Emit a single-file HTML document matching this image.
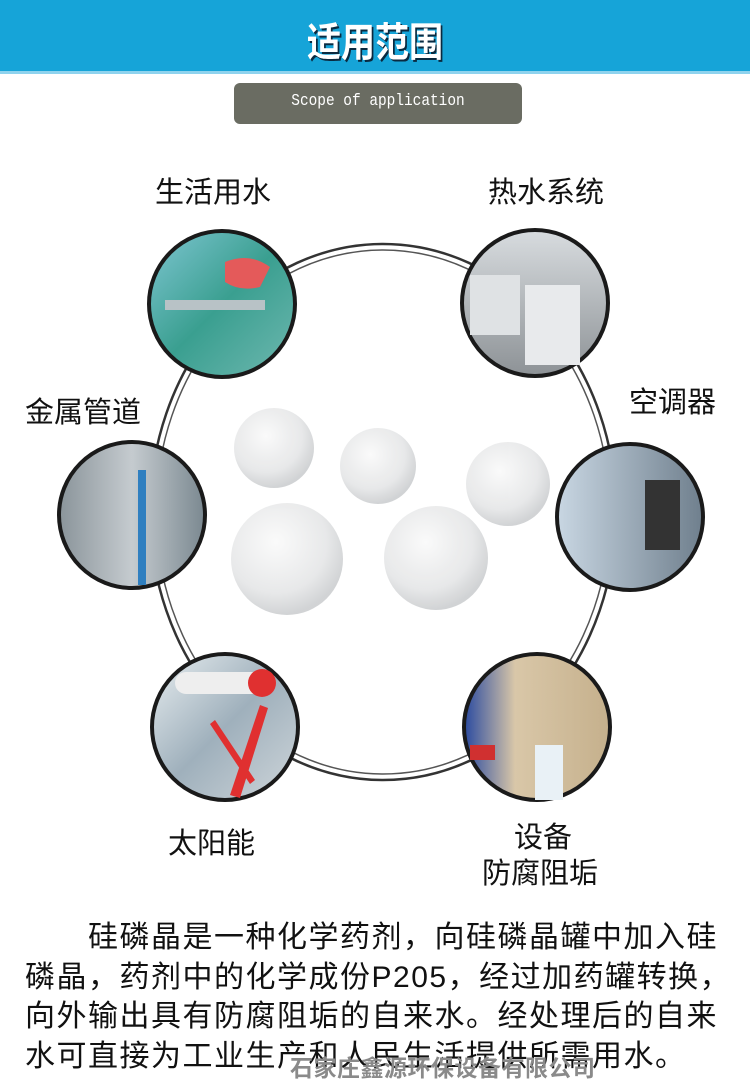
<!DOCTYPE html>
<html><head><meta charset="utf-8"><style>
body{margin:0;width:750px;height:1089px;background:#fff;overflow:hidden;position:relative;font-family:"Liberation Sans","Noto Sans CJK SC",sans-serif}
.hdr{position:absolute;left:0;top:0;width:750px;height:71px;background:#16a4d8;border-bottom:3px solid #8fd3ee}
.hdr span{position:absolute;left:0;width:750px;top:10px;text-align:center;font-size:40px;color:#fff;font-weight:bold;text-shadow:2px 2px 0 #0a2a40;transform:scaleX(0.85)}
.pill{position:absolute;left:234px;top:83px;width:288px;height:41px;background:#6a6c62;border-radius:6px}
.pill span{position:absolute;left:0;width:288px;top:9px;text-align:center;color:#fff;font-family:"Liberation Mono",monospace;font-size:17px;transform:scaleX(0.85)}
.lbl{position:absolute;font-size:29px;color:#111;white-space:nowrap;line-height:36px}
.txt{position:absolute;left:25px;top:918px;width:740px;font-size:30px;letter-spacing:1.5px;line-height:39.5px;color:#111;white-space:nowrap}
.co{position:absolute;left:290px;top:1049px;font-size:23px;font-weight:bold;color:#8a8a8a;letter-spacing:0.5px}
</style></head><body>
<div class="hdr"><span>适用范围</span></div>
<div class="pill"><span>Scope of application</span></div>
<svg width="750" height="1089" style="position:absolute;left:0;top:0">
<defs>
<radialGradient id="ball" cx="40%" cy="35%" r="65%"><stop offset="0" stop-color="#fafafa"/><stop offset="0.7" stop-color="#e6e7e8"/><stop offset="1" stop-color="#cfd1d3"/></radialGradient>
<linearGradient id="g1" x1="0" y1="0" x2="1" y2="1"><stop offset="0" stop-color="#7fc6d2"/><stop offset="0.5" stop-color="#3a9f90"/><stop offset="1" stop-color="#6fb8b0"/></linearGradient>
<linearGradient id="g2" x1="0" y1="0" x2="0" y2="1"><stop offset="0" stop-color="#d8dcdf"/><stop offset="1" stop-color="#8d9296"/></linearGradient>
<linearGradient id="g3" x1="0" y1="0" x2="1" y2="0"><stop offset="0" stop-color="#8a949a"/><stop offset="0.5" stop-color="#c5cbcf"/><stop offset="1" stop-color="#7a8890"/></linearGradient>
<linearGradient id="g4" x1="0" y1="0" x2="1" y2="0"><stop offset="0" stop-color="#c9d7e3"/><stop offset="1" stop-color="#6f7f8d"/></linearGradient>
<linearGradient id="g5" x1="0" y1="0" x2="1" y2="1"><stop offset="0" stop-color="#e8eef0"/><stop offset="0.5" stop-color="#9fb0bc"/><stop offset="1" stop-color="#cfd6da"/></linearGradient>
<linearGradient id="g6" x1="0" y1="0" x2="1" y2="0"><stop offset="0" stop-color="#2a4aa0"/><stop offset="0.35" stop-color="#d9c7a8"/><stop offset="1" stop-color="#c5b08c"/></linearGradient>
</defs>
<ellipse cx="383" cy="512" rx="233" ry="268" fill="none" stroke="#333" stroke-width="2.5"/>
<ellipse cx="383" cy="512" rx="227" ry="262" fill="none" stroke="#555" stroke-width="1.5"/>
<g>
<circle cx="222" cy="304" r="73" fill="url(#g1)" stroke="#1a1a1a" stroke-width="4"/>
<path d="M225 262 q25 -10 45 5 l-10 20 q-20 5 -35 -5z" fill="#e45a5a"/>
<rect x="165" y="300" width="100" height="10" fill="#b8c2c6"/>
<circle cx="535" cy="303" r="73" fill="url(#g2)" stroke="#1a1a1a" stroke-width="4"/>
<rect x="525" y="285" width="55" height="80" fill="#e8eaec"/><rect x="470" y="275" width="50" height="60" fill="#dfe2e4"/>
<circle cx="132" cy="515" r="73" fill="url(#g3)" stroke="#1a1a1a" stroke-width="4"/>
<rect x="138" y="470" width="8" height="115" fill="#2f7fc0"/>
<circle cx="630" cy="517" r="73" fill="url(#g4)" stroke="#1a1a1a" stroke-width="4"/>
<rect x="645" y="480" width="35" height="70" fill="#333"/>
<circle cx="225" cy="727" r="73" fill="url(#g5)" stroke="#1a1a1a" stroke-width="4"/>
<rect x="175" y="672" width="90" height="22" rx="11" fill="#eee"/><circle cx="262" cy="683" r="14" fill="#e03030"/>
<path d="M230 795 l30 -90 l8 3 l-28 90z M215 720 l40 60 l-5 4 l-40 -60z" fill="#e03030"/>
<circle cx="537" cy="727" r="73" fill="url(#g6)" stroke="#1a1a1a" stroke-width="4"/>
<rect x="535" y="745" width="28" height="55" fill="#e9f1f6"/><rect x="470" y="745" width="25" height="15" fill="#d03030"/>
</g>
<g opacity="0.95">
<circle cx="274" cy="448" r="40" fill="url(#ball)"/>
<circle cx="378" cy="466" r="38" fill="url(#ball)"/>
<circle cx="287" cy="559" r="56" fill="url(#ball)"/>
<circle cx="508" cy="484" r="42" fill="url(#ball)"/>
<circle cx="436" cy="558" r="52" fill="url(#ball)"/>
</g>
</svg>
<div class="lbl" style="left:155px;top:175px">生活用水</div>
<div class="lbl" style="left:488px;top:175px">热水系统</div>
<div class="lbl" style="left:25px;top:395px">金属管道</div>
<div class="lbl" style="left:629px;top:385px">空调器</div>
<div class="lbl" style="left:168px;top:826px">太阳能</div>
<div class="lbl" style="left:514px;top:820px">设备</div>
<div class="lbl" style="left:482px;top:856px">防腐阻垢</div>
<div class="txt">&emsp;&emsp;硅磷晶是一种化学药剂，向硅磷晶罐中加入硅<br>磷晶，药剂中的化学成份P205，经过加药罐转换，<br>向外输出具有防腐阻垢的自来水。经处理后的自来<br>水可直接为工业生产和人民生活提供所需用水。</div>
<div class="co">石家庄鑫源环保设备有限公司</div>
</body></html>
